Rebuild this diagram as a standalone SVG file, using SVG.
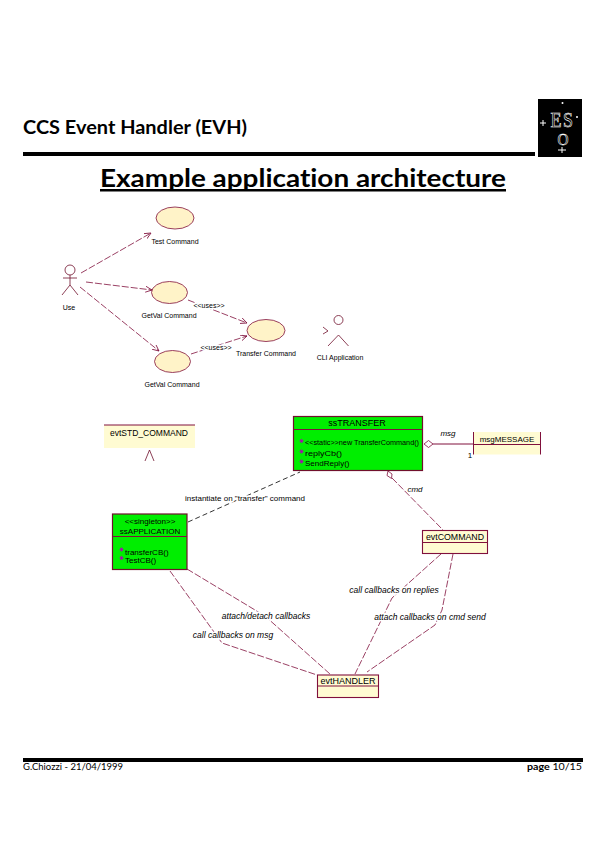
<svg xmlns="http://www.w3.org/2000/svg" width="606" height="863" viewBox="0 0 606 863">
<style>
text{font-family:"Liberation Sans",Arial,sans-serif;fill:#000;font-variant-ligatures:none}
.h{font-family:"Lato","Liberation Sans",sans-serif;font-weight:700;fill:#000}
.l{font-size:8px;text-anchor:middle}
.m{font-size:7px;text-anchor:middle}
.lb{font-size:8px;text-anchor:middle;paint-order:stroke;stroke:#fff;stroke-width:3px}
.lm{font-size:7px;text-anchor:middle;paint-order:stroke;stroke:#fff;stroke-width:3px}
.i{font-style:italic}
.c{fill:none;stroke:#80103c;stroke-width:.8;stroke-dasharray:7 2}
.b{fill:none;stroke:#000;stroke-width:.8;stroke-dasharray:5 3}
.s{fill:none;stroke:#80103c;stroke-width:1}
.u{fill:#fff3c8;stroke:#80103c;stroke-width:.8}
.g{fill:#00ee00;stroke:#70102c;stroke-width:1.2}
.y{fill:#fffbd2;stroke:#80103c;stroke-width:1.1}
.n{fill:#fffbd2}
.d{fill:#9a1fa0}
.a{fill:none;stroke:#70102c;stroke-width:.8}
.w{fill:#fff}
.o{fill:none;stroke:#fff;stroke-width:.6;font-family:"Liberation Serif",serif;text-anchor:middle}
.f{font-family:"Lato","Liberation Sans",sans-serif;font-size:10px}
</style>
<defs>
<marker id="arr" markerWidth="8" markerHeight="8" refX="6.500" refY="3" orient="auto" markerUnits="userSpaceOnUse"><path d="M0 0L6.500 3L0 6" fill="none" stroke="#80103c" stroke-width=".8"/></marker>
<path id="op" d="M0-2.200L2.200 0L0 2.200L-2.200 0Z" class="d"/>
</defs>
<g id="header">
<text class="h" x="23" y="134" font-size="18.500" textLength="224" lengthAdjust="spacingAndGlyphs">CCS Event Handler (EVH)</text>
<rect x="23" y="152" width="512" height="4" fill="#000"/>
</g>
<g id="eso-logo">
<rect x="538" y="99" width="44" height="58" fill="#000"/>
<text class="o" x="556" y="127" font-size="21" textLength="11" lengthAdjust="spacingAndGlyphs">E</text>
<text class="o" x="568" y="127" font-size="21" textLength="10" lengthAdjust="spacingAndGlyphs">S</text>
<text class="o" x="563" y="145" font-size="17" textLength="11" lengthAdjust="spacingAndGlyphs">O</text>
<path d="M540 123h6M543 120v6M558 150h8M562 147v6" stroke="#fff" stroke-width="1" fill="none"/>
<circle cx="562.500" cy="103" r="1" class="w"/><circle cx="577" cy="117" r="1" class="w"/>
</g>
<g id="title">
<text class="h" x="100" y="187" font-size="24.500" textLength="406" lengthAdjust="spacingAndGlyphs">Example application architecture</text>
<rect x="100" y="189" width="406" height="2.500" fill="#000"/>
</g>
<g id="connectors">
<path class="c" d="M81 273L151 233" marker-end="url(#arr)"/>
<path class="c" d="M86 282L152 290" marker-end="url(#arr)"/>
<path class="c" d="M80 287L159 351" marker-end="url(#arr)"/>
<path class="c" d="M188 300L247 323" marker-end="url(#arr)"/>
<path class="c" d="M191 354L247 336" marker-end="url(#arr)"/>
<path class="b" d="M188 522L300 472"/>
<path class="s" d="M433 444H473"/>
<path class="c" d="M392 478L443 530"/>
<path class="c" d="M170 571L222 643L317 675"/>
<path class="c" d="M187 569L265 616L330 674"/>
<path class="c" d="M441 554L392 598L355 674"/>
<path class="c" d="M453 554L442 610L435 625L367 672"/>
<path d="M424 444L428.500 440.500L433 444L428.500 447.500Z" fill="#fff" stroke="#80103c" stroke-width=".8"/>
<path d="M388 471L392 474L391.500 478.500L387 475.500Z" fill="#fff" stroke="#80103c" stroke-width=".8"/>
<text class="lm" x="209" y="307.500">&lt;&lt;uses&gt;&gt;</text>
<text class="lm" x="216" y="349.500">&lt;&lt;uses&gt;&gt;</text>
<text class="lb" x="245" y="501">instantiate on "transfer" command</text>
<text class="lb i" x="266" y="619" style="font-size:8.500px">attach/detach callbacks</text>
<text class="lb i" x="233" y="638" style="font-size:8.500px">call callbacks on msg</text>
<text class="lb i" x="394" y="593" style="font-size:8.500px">call callbacks on replies</text>
<text class="lb i" x="430" y="620" style="font-size:8.500px">attach callbacks on cmd send</text>
<text class="l i" x="448" y="436">msg</text>
<text class="l" x="470" y="458">1</text>
<text class="l i" x="415" y="492">cmd</text>
</g>
<g id="user"><circle cx="70" cy="270" r="5" class="a"/><path class="a" d="M70 275V285M63 278H77M62 295L70 285L78 295"/><text class="m" x="69" y="310">Use</text></g>
<g id="uc-test"><ellipse class="u" cx="175" cy="218" rx="19" ry="11"/><text class="m" x="175" y="243.500">Test Command</text></g>
<g id="uc-getval1"><ellipse class="u" cx="169.500" cy="292.500" rx="18" ry="11"/><text class="m" x="169" y="317.500">GetVal Command</text></g>
<g id="uc-getval2"><ellipse class="u" cx="172.500" cy="361.500" rx="18" ry="11"/><text class="m" x="172" y="386.500">GetVal Command</text></g>
<g id="uc-transfer"><ellipse class="u" cx="266" cy="330.500" rx="19" ry="11"/><text class="m" x="266" y="355.500">Transfer Command</text></g>
<g id="cli"><circle cx="338.500" cy="320" r="4.500" class="a"/><path class="a" d="M328 346L338.500 335L348.500 346M323 327L328 331L323 334"/><text class="m" x="340" y="360">CLI Application</text></g>
<g id="evtSTD_COMMAND"><rect class="n" x="104" y="425" width="91" height="23"/><path class="s" d="M104 425H195"/><text class="l" x="149" y="436" style="font-size:8.500px">evtSTD_COMMAND</text><path class="a" d="M145 461L149.500 450L154 461"/></g>
<g id="ssTRANSFER"><rect class="g" x="293.500" y="416.500" width="129" height="54"/><path class="s" d="M293.500 429.500H422.500"/><text class="l" x="357" y="426" style="font-size:9px">ssTRANSFER</text>
<use href="#op" x="301.500" y="441"/><use href="#op" x="301.500" y="451.500"/><use href="#op" x="301.500" y="461.500"/>
<text font-size="8" x="305" y="445" textLength="114" lengthAdjust="spacingAndGlyphs">&lt;&lt;static&gt;&gt;new TransferCommand()</text><text font-size="8" x="305" y="456" textLength="37" lengthAdjust="spacingAndGlyphs">replyCb()</text><text font-size="8" x="305" y="466">SendReply()</text></g>
<g id="ssAPPLICATION"><rect class="g" x="112.500" y="514" width="74.500" height="55.500"/><path class="s" d="M112.500 536.500H187"/><text class="l" x="150" y="523.500">&lt;&lt;singleton&gt;&gt;</text><text class="l" x="150" y="534">ssAPPLICATION</text>
<use href="#op" x="121.500" y="549.500"/><use href="#op" x="121.500" y="558"/>
<text font-size="8" x="125" y="554.500">transferCB()</text><text font-size="8" x="125" y="563">TestCB()</text></g>
<g id="msgMESSAGE"><rect class="n" x="473.500" y="432" width="67" height="22.500"/><path class="s" d="M473.500 432V454.500M540.500 432V454.500M473.500 444.500H540.500"/><text class="l" x="507" y="442">msgMESSAGE</text></g>
<g id="evtCOMMAND"><rect class="y" x="422.500" y="530.500" width="65" height="23"/><path class="s" d="M422.500 542.500H487.500"/><text class="l" x="455" y="540" style="font-size:8.800px">evtCOMMAND</text></g>
<g id="evtHANDLER"><rect class="y" x="317.500" y="675" width="61" height="22.500"/><path class="s" d="M317.500 686H378.500"/><text class="l" x="348" y="684" style="font-size:9px">evtHANDLER</text></g>
<g id="footer">
<rect x="23" y="758" width="560" height="4" fill="#000"/>
<text class="f" x="23" y="770" textLength="100" lengthAdjust="spacingAndGlyphs">G.Chiozzi - 21/04/1999</text>
<text class="f" x="527" y="770" textLength="55" lengthAdjust="spacingAndGlyphs"><tspan font-weight="700">page</tspan> 10/15</text>
</g>
</svg>
